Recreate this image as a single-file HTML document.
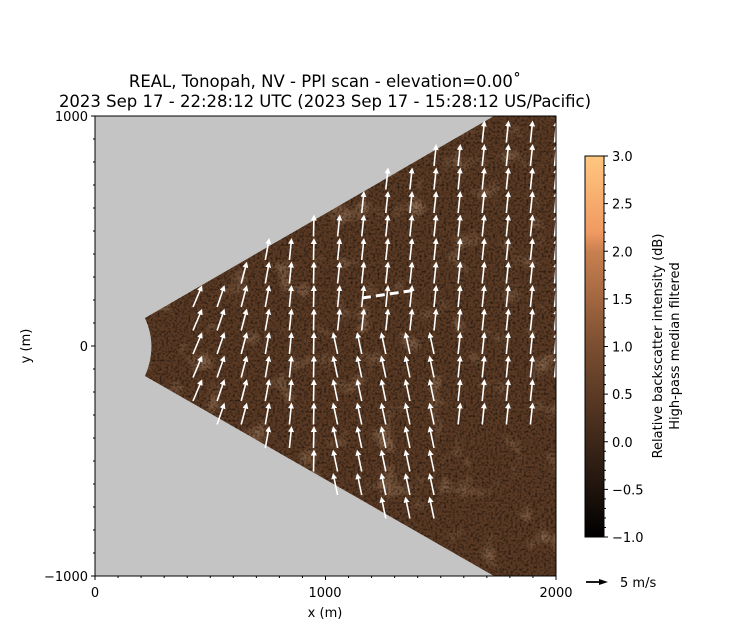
<!DOCTYPE html>
<html><head><meta charset="utf-8"><style>
body{margin:0;background:#fff;width:753px;height:634px;overflow:hidden}
svg{display:block;font-family:"DejaVu Sans","Liberation Sans",sans-serif}
</style></head><body>
<svg id="s" width="753" height="634" viewBox="0 0 753 634" xmlns="http://www.w3.org/2000/svg">
<defs>
<linearGradient id="cm" x1="0" y1="1" x2="0" y2="0">
<stop offset="0" stop-color="#000"/><stop offset="0.25" stop-color="#3d2719"/><stop offset="0.5" stop-color="#7a4e31"/><stop offset="0.75" stop-color="#c98050"/><stop offset="0.8" stop-color="#f09a62"/><stop offset="1" stop-color="#ffc77f"/>
</linearGradient>
<filter id="nz" x="0" y="0" width="100%" height="100%">
<feTurbulence type="fractalNoise" baseFrequency="0.45" numOctaves="1" seed="4"/>
<feColorMatrix type="matrix" values="0 0 0 0 0  0 0 0 0 0  0 0 0 0 0  0 0 0 -2.4 1.35"/>
</filter>
<filter id="nz2" x="0" y="0" width="100%" height="100%">
<feTurbulence type="fractalNoise" baseFrequency="0.04" numOctaves="2" seed="9"/>
<feColorMatrix type="matrix" values="0 0 0 0 0.75  0 0 0 0 0.48  0 0 0 0 0.30  0 0 0 1.2 -0.7"/>
</filter>
<clipPath id="wedge"><path d="M145,318 L494,116 L556,116 L556,576 L494,576 L145,376 Q158,346 145,318 Z"/></clipPath>
<marker id="ah" markerWidth="6" markerHeight="6" refX="3" refY="3" orient="auto" markerUnits="userSpaceOnUse"><path d="M0,0 L6,3 L0,6 Z" fill="#fff"/></marker>
</defs>
<rect x="95" y="116" width="461" height="460" fill="#c4c4c4"/>
<g clip-path="url(#wedge)">
<rect x="95" y="116" width="461" height="460" fill="#5a3a24"/>
<rect x="95" y="116" width="461" height="460" filter="url(#nz2)"/>
<rect x="95" y="116" width="461" height="460" filter="url(#nz)" opacity="0.65"/>
</g>
<g id="arrows" stroke="#fff" stroke-width="1.6" fill="none"></g>
<path d="M362,298 L416,290" stroke="#fff" stroke-width="3" stroke-dasharray="9,5"/>
<rect x="95" y="116" width="461" height="460" fill="none" stroke="#000" stroke-width="1"/>
<g id="ticks" stroke="#000" stroke-width="1"></g>
<g font-size="13" fill="#000">
<text x="95" y="597" text-anchor="middle">0</text>
<text x="325" y="597" text-anchor="middle">1000</text>
<text x="556" y="597" text-anchor="middle">2000</text>
<text x="88" y="121" text-anchor="end">1000</text>
<text x="88" y="351" text-anchor="end">0</text>
<text x="88" y="581" text-anchor="end">−1000</text>
<text x="325" y="617" text-anchor="middle">x (m)</text>
<text transform="translate(30,346) rotate(-90)" text-anchor="middle">y (m)</text>
<text x="325" y="87" text-anchor="middle" font-size="16.5">REAL, Tonopah, NV - PPI scan - elevation=0.00˚</text>
<text x="325" y="107" text-anchor="middle" font-size="16.5">2023 Sep 17 - 22:28:12 UTC (2023 Sep 17 - 15:28:12 US/Pacific)</text>
</g>
<rect x="585" y="156" width="19" height="381" fill="url(#cm)" stroke="#000" stroke-width="1"/>
<g id="cb" font-size="13"></g>
<g font-size="13">
<text transform="translate(662,346) rotate(-90)" text-anchor="middle">Relative backscatter intensity (dB)</text>
<text transform="translate(679,346) rotate(-90)" text-anchor="middle">High-pass median filtered</text>
<path d="M586,582 L600,582" stroke="#000" stroke-width="1.8"/><path d="M599,579 L608,582 L599,585 Z" fill="#000"/>
<text x="620" y="587">5 m/s</text>
</g>
</svg>
<script>
var NS="http://www.w3.org/2000/svg";
function el(p,t,a){var e=document.createElementNS(NS,t);for(var k in a)e.setAttribute(k,a[k]);p.appendChild(e);return e;}
var tk=document.getElementById("ticks");
for(var i=0;i<=20;i++){var x=95+i*461/20;var L=(i%10==0)?4:2;el(tk,"line",{x1:x,y1:576,x2:x,y2:576+L});
var y=116+i*460/20;el(tk,"line",{x1:95,y1:y,x2:95-L,y2:y});}
var cb=document.getElementById("cb");
for(var i=0;i<=40;i++){var y=537-i*381/40;var maj=i%5==0;el(cb,"line",{x1:604,y1:y,x2:maj?608:606,y2:y,stroke:"#000"});
if(maj){var v=-1+i*0.1;var t=el(cb,"text",{x:612,y:y+5});t.textContent=(v<-0.01?"−":"")+Math.abs(v).toFixed(1);}}
var ar=document.getElementById("arrows");
function inW(x,y){if(x<150)return false;return Math.abs(y-346)<(x-95)*0.585;}
for(var c=0;c<16;c++){var x=193+c*24.1;for(var r=-10;r<=10;r++){var y=346+r*23.5+8;
if(!inW(x,y-10))continue;if(y<135)continue;
if(x>445&&y>430)continue;if(x>540&&y>400)continue;if(y>525)continue;
var dx=x<320?8*(320-x)/127:(y>350&&x<440?-4:2);
el(ar,"line",{x1:x,y1:y,x2:x+dx,y2:y-19,"marker-end":"url(#ah)"});}}
</script>
</body></html>
